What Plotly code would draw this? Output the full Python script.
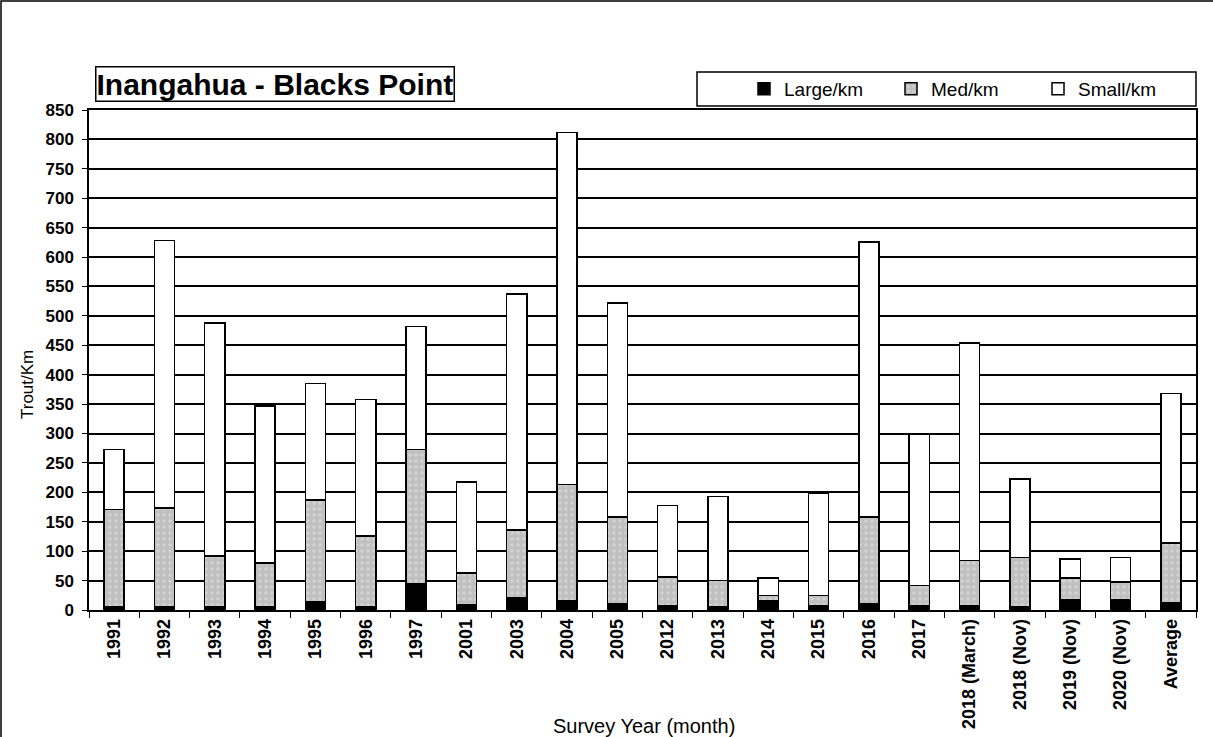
import plotly.graph_objects as go

categories = ["1991", "1992", "1993", "1994", "1995", "1996", "1997", "2001", "2003", "2004",
              "2005", "2012", "2013", "2014", "2015", "2016", "2017", "2018 (March)",
              "2018 (Nov)", "2019 (Nov)", "2020 (Nov)", "Average"]
large_km = [5, 5, 6, 6, 14, 6, 44, 9, 20, 16, 10, 7, 6, 16, 7, 11, 7, 8, 5, 18, 18, 12]
med_top = [171, 173, 92, 80, 187, 126, 273, 63, 136, 213, 158, 56, 50, 25, 25, 158, 42, 84, 89, 54, 48, 114]
total_top = [273, 628, 488, 347, 385, 358, 482, 218, 537, 812, 522, 178, 193, 54, 198, 626, 298, 454, 223, 87, 89, 368]
med_km = [m - l for m, l in zip(med_top, large_km)]
small_km = [t - m for t, m in zip(total_top, med_top)]

FONT = "Arial, 'Liberation Sans', sans-serif"

fig = go.Figure()
line = dict(color="#000000", width=1.5)
fig.add_trace(go.Bar(x=categories, y=large_km, name="Large/km",
                     marker=dict(color="#000000", line=line)))
fig.add_trace(go.Bar(x=categories, y=med_km, name="Med/km",
                     marker=dict(color="#c0c0c0", line=line,
                                 pattern=dict(shape=".", bgcolor="#c0c0c0", fgcolor="#e6e6e6",
                                              size=6, solidity=0.25, fillmode="overlay"))))
fig.add_trace(go.Bar(x=categories, y=small_km, name="Small/km",
                     marker=dict(color="#ffffff", line=line)))

L, R, T, B = 89, 17, 110, 127
W, H = 1213, 737
pw = W - L - R
ph = H - T - B

def px(x):
    return (x - L) / pw

def py(y):
    return (H - B - y) / ph

fig.update_layout(
    width=W, height=H,
    margin=dict(l=L, r=R, t=T, b=B, pad=0, autoexpand=False),
    barmode="stack", bargap=0.6,
    plot_bgcolor="#ffffff", paper_bgcolor="#ffffff",
    font=dict(family=FONT, size=14, color="#000000"),
    showlegend=True,
    legend=dict(orientation="h", x=px(744), y=py(89), xanchor="left", yanchor="middle",
                traceorder="normal", bgcolor="rgba(0,0,0,0)", borderwidth=0,
                entrywidth=102, entrywidthmode="pixels", itemwidth=30,
                font=dict(family=FONT, size=19)),
    xaxis=dict(showgrid=False, showline=True, linecolor="#000000", linewidth=1.5, mirror=True,
               ticks="outside", tickson="boundaries", ticklen=6, tickcolor="#000000",
               tickangle=-90, tickfont=dict(family=FONT, size=18, weight="bold")),
    yaxis=dict(range=[0, 850], dtick=50, showgrid=True, gridcolor="#000000", gridwidth=1.5,
               showline=True, linecolor="#000000", linewidth=1.5, mirror=True,
               ticks="outside", ticklen=5, tickcolor="#000000", ticklabelstandoff=5,
               tickfont=dict(family=FONT, size=17, weight="bold"), zeroline=False),
    shapes=[
        dict(type="rect", xref="paper", yref="paper", x0=px(697), x1=px(1196), y0=py(72), y1=py(106),
             line=dict(color="#000000", width=1.5), fillcolor="rgba(0,0,0,0)", layer="above"),
        dict(type="rect", xref="paper", yref="paper", x0=px(1), x1=px(1240), y0=py(1), y1=py(760),
             line=dict(color="#000000", width=1.5), fillcolor="rgba(0,0,0,0)"),
    ],
    annotations=[
        dict(text="<b>Inangahua - Blacks Point</b>", xref="paper", yref="paper",
             x=px(95), y=py(102), xanchor="left", yanchor="bottom", showarrow=False,
             font=dict(family=FONT, size=30, color="#000000"),
             bordercolor="#000000", borderwidth=1.5, borderpad=0, bgcolor="#ffffff"),
        dict(text="Survey Year (month)", xref="paper", yref="paper",
             x=px(644), y=py(726), xanchor="center", yanchor="middle", showarrow=False,
             font=dict(family=FONT, size=20, color="#000000")),
        dict(text="Trout/Km", xref="paper", yref="paper", textangle=-90,
             x=px(27), y=py(385), xanchor="center", yanchor="middle", showarrow=False,
             font=dict(family=FONT, size=17, color="#000000")),
    ],
)

fig.write_html("out.html", config={"displayModeBar": False},
               post_script="document.body.style.margin='0';")
